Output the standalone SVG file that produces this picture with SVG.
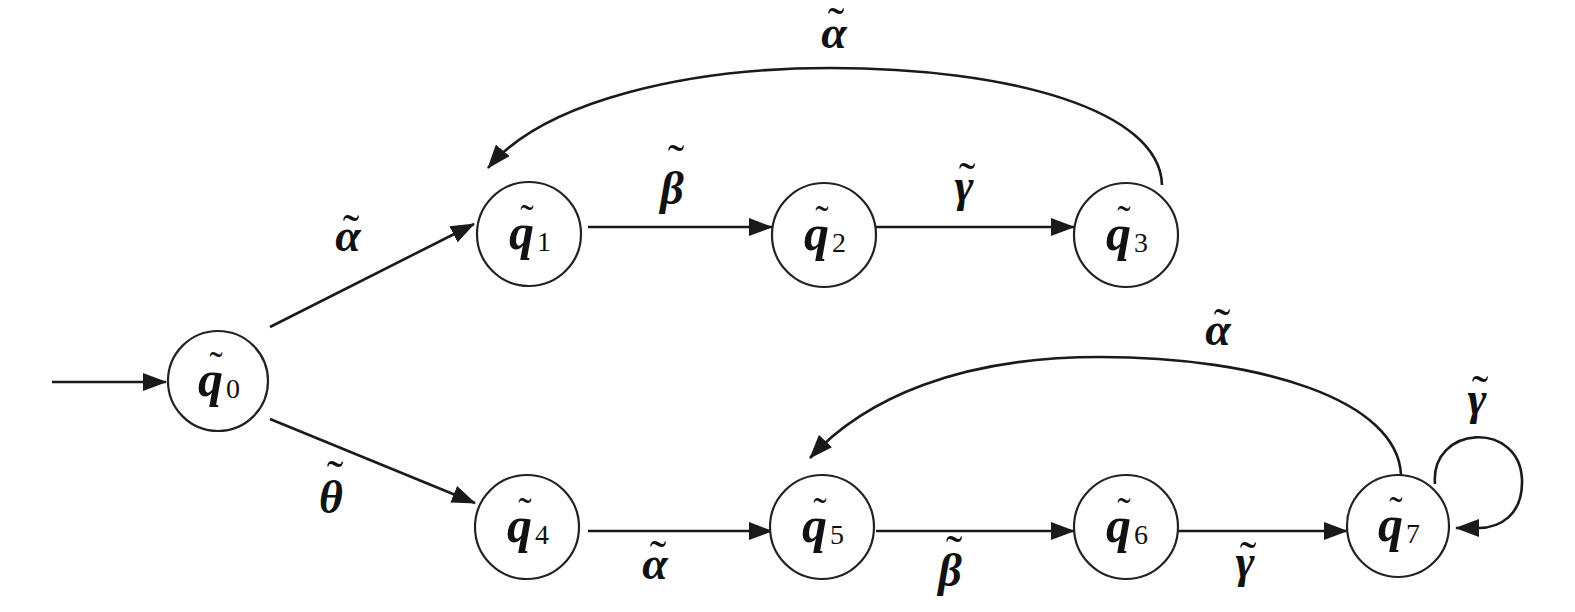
<svg xmlns="http://www.w3.org/2000/svg" width="1575" height="612" viewBox="0 0 1575 612">
<style>
.st{fill:#fff;stroke:#222;stroke-width:2.2}
.e{fill:none;stroke:#1a1a1a;stroke-width:2.6}
.q{font-family:"Liberation Serif",serif;font-weight:bold;font-style:italic;font-size:50px;fill:#111}
.s{font-family:"Liberation Serif",serif;font-weight:normal;font-style:normal;font-size:28px}
.g{font-family:"Liberation Serif",serif;font-weight:bold;font-style:italic;font-size:46px;fill:#111;text-anchor:middle}
.t{font-family:"Liberation Serif",serif;font-size:50px;fill:#111;text-anchor:middle}
.tq{font-family:"Liberation Serif",serif;font-size:40px;fill:#111;text-anchor:middle}
</style>
<defs>
<marker id="ah" markerUnits="userSpaceOnUse" markerWidth="24" markerHeight="18" viewBox="0 0 24 18" refX="23" refY="9" orient="auto">
<path d="M0,0 L24,9 L0,18 z" fill="#1a1a1a"/>
</marker>
</defs>
<rect width="1575" height="612" fill="#fff"/>
<g id="connectors">
<line class="e" x1="52" y1="382" x2="166" y2="382" marker-end="url(#ah)"/>
<line class="e" x1="270" y1="327" x2="474" y2="224" marker-end="url(#ah)"/>
<line class="e" x1="270" y1="419" x2="475" y2="503" marker-end="url(#ah)"/>
<line class="e" x1="588" y1="227" x2="772" y2="227" marker-end="url(#ah)"/>
<line class="e" x1="876" y1="227" x2="1074" y2="227" marker-end="url(#ah)"/>
<path class="e" d="M1162,185 C1160,110 1010,68 830,68 C690,68 545,100 488,168" marker-end="url(#ah)"/>
<line class="e" x1="588" y1="531" x2="772" y2="531" marker-end="url(#ah)"/>
<line class="e" x1="876" y1="531" x2="1074" y2="531" marker-end="url(#ah)"/>
<line class="e" x1="1178" y1="531" x2="1347" y2="531" marker-end="url(#ah)"/>
<path class="e" d="M1401,475 C1398,400 1260,357 1100,357 C960,357 865,398 810,458" marker-end="url(#ah)"/>
<path class="e" d="M1435,484 C1430,425 1520,420 1522,480 C1523,515 1500,528 1478,528 L1456,528" marker-end="url(#ah)"/>
</g>
<g id="q0"><circle class="st" cx="218" cy="381" r="50"/><text class="q" x="198" y="396">q<tspan class="s" dx="3" dy="2">0</tspan></text><text class="tq" x="216" y="379">˜</text></g>
<g id="q1"><circle class="st" cx="529" cy="234" r="52"/><text class="q" x="509" y="249">q<tspan class="s" dx="3" dy="2">1</tspan></text><text class="tq" x="527" y="232">˜</text></g>
<g id="q2"><circle class="st" cx="824" cy="235" r="52"/><text class="q" x="804" y="250">q<tspan class="s" dx="3" dy="2">2</tspan></text><text class="tq" x="822" y="233">˜</text></g>
<g id="q3"><circle class="st" cx="1126" cy="235" r="52"/><text class="q" x="1106" y="250">q<tspan class="s" dx="3" dy="2">3</tspan></text><text class="tq" x="1124" y="233">˜</text></g>
<g id="q4"><circle class="st" cx="527" cy="527" r="52"/><text class="q" x="507" y="542">q<tspan class="s" dx="3" dy="2">4</tspan></text><text class="tq" x="525" y="525">˜</text></g>
<g id="q5"><circle class="st" cx="822" cy="527" r="52"/><text class="q" x="802" y="542">q<tspan class="s" dx="3" dy="2">5</tspan></text><text class="tq" x="820" y="525">˜</text></g>
<g id="q6"><circle class="st" cx="1126" cy="527" r="52"/><text class="q" x="1106" y="542">q<tspan class="s" dx="3" dy="2">6</tspan></text><text class="tq" x="1124" y="525">˜</text></g>
<g id="q7"><circle class="st" cx="1398" cy="526" r="51"/><text class="q" x="1378" y="541">q<tspan class="s" dx="3" dy="2">7</tspan></text><text class="tq" x="1396" y="524">˜</text></g>
<g id="labels">
<text class="g" x="348" y="251">α</text><text class="t" x="351" y="249">˜</text>
<text class="g" x="331" y="513">θ</text><text class="t" x="335" y="495">˜</text>
<text class="g" x="672" y="204">β</text><text class="t" x="676" y="179">˜</text>
<text class="g" x="964" y="201">γ</text><text class="t" x="967" y="197">˜</text>
<text class="g" x="834" y="48">α</text><text class="t" x="836" y="42">˜</text>
<text class="g" x="655" y="579">α</text><text class="t" x="658" y="575">˜</text>
<text class="g" x="950" y="586">β</text><text class="t" x="954" y="570">˜</text>
<text class="g" x="1245" y="577">γ</text><text class="t" x="1248" y="576">˜</text>
<text class="g" x="1218" y="345">α</text><text class="t" x="1222" y="343">˜</text>
<text class="g" x="1477" y="414">γ</text><text class="t" x="1480" y="410">˜</text>
</g>
</svg>
